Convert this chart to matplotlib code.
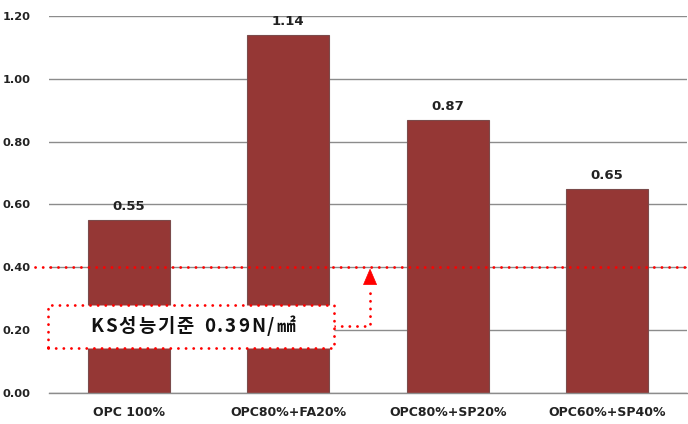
import matplotlib
matplotlib.use("Agg")
import matplotlib.pyplot as plt
from matplotlib.patches import Rectangle, Polygon
from matplotlib.transforms import IdentityTransform

# Data
categories = ["OPC 100%", "OPC80%+FA20%", "OPC80%+SP20%", "OPC60%+SP40%"]
values = [0.55, 1.14, 0.87, 0.65]
yticks = [0.00, 0.20, 0.40, 0.60, 0.80, 1.00, 1.20]
criterion_line = 0.40
criterion_label = "KS성능기준 0.39N/㎟"

bar_color = "#953735"
red = "#ff0000"

fig = plt.figure(figsize=(6.88, 4.24), dpi=100)
ax = fig.add_axes([0.0712, 0.0731, 0.9273, 0.8892])

x = list(range(len(categories)))
ax.bar(x, values, width=0.515, color=bar_color, edgecolor="#7b4b4b",
       linewidth=0.8, zorder=2)

for xi, v in zip(x, values):
    ax.annotate(f"{v:.2f}", (xi, v), xytext=(0, 5), textcoords="offset points",
                ha="center", va="bottom", fontsize=9.5, fontweight="bold",
                color="#222222")

ax.set_xlim(-0.5, 3.5)
ax.set_ylim(0, 1.2)
ax.set_yticks(yticks)
ax.set_yticklabels([f"{t:.2f}" for t in yticks], fontsize=8.2,
                   fontweight="bold", color="#222222")
ax.set_xticks(x)
ax.set_xticklabels(categories, fontsize=9, fontweight="bold", color="#222222")
ax.tick_params(axis="both", length=0)
ax.tick_params(axis="y", pad=13)
ax.tick_params(axis="x", pad=9)
ax.grid(axis="y", color="#8c8c8c", linewidth=1.0, zorder=0)
ax.set_axisbelow(True)
for s in ["left", "right", "top"]:
    ax.spines[s].set_visible(False)
ax.spines["bottom"].set_color("#8c8c8c")
ax.spines["bottom"].set_linewidth(1.0)

dot_style = dict(color=red, linewidth=2.0, linestyle=(0, (0.05, 2.7)),
                 dash_capstyle="round", clip_on=False, zorder=4)

# Criterion reference line
ax.plot([-0.59, 3.5], [criterion_line, criterion_line], **dot_style)

# Label box
box = Rectangle((-0.506, 0.143), 1.793, 0.137, facecolor="white",
                edgecolor=red, linewidth=2.0, linestyle=(0, (0.05, 2.7)),
                capstyle="round", clip_on=False, zorder=5)
ax.add_patch(box)

# Box label, laid out glyph by glyph with extra tracking
renderer = fig.canvas.get_renderer()
font_kw = dict(fontsize=13.5, fontweight="bold",
               family=["Noto Sans CJK KR", "DejaVu Sans"], color="#111111")
tracking = 2.0
cx, cy = ax.transData.transform((0.40, 0.212))
glyphs = []
widths = []
for ch in criterion_label:
    t = fig.text(0, 0, ch if ch != " " else "\u00a0", transform=IdentityTransform(),
                 ha="left", va="center", zorder=6, **font_kw)
    w = t.get_window_extent(renderer).width
    if ch == " ":
        w = 6.0
    glyphs.append(t)
    widths.append(w)
total = sum(widths) + tracking * (len(widths) - 1)
px = cx - total / 2
for t, w in zip(glyphs, widths):
    t.set_position((px, cy))
    px += w + tracking

# Connector from the box up to the reference line
ax.plot([1.29, 1.513, 1.513], [0.213, 0.213, 0.335], **dot_style)
tri = Polygon([[1.472, 0.345], [1.554, 0.345], [1.513, 0.394]], closed=True,
              facecolor=red, edgecolor=red, linewidth=0.5, clip_on=False,
              zorder=5)
ax.add_patch(tri)

fig.savefig("out.png", dpi=100)
